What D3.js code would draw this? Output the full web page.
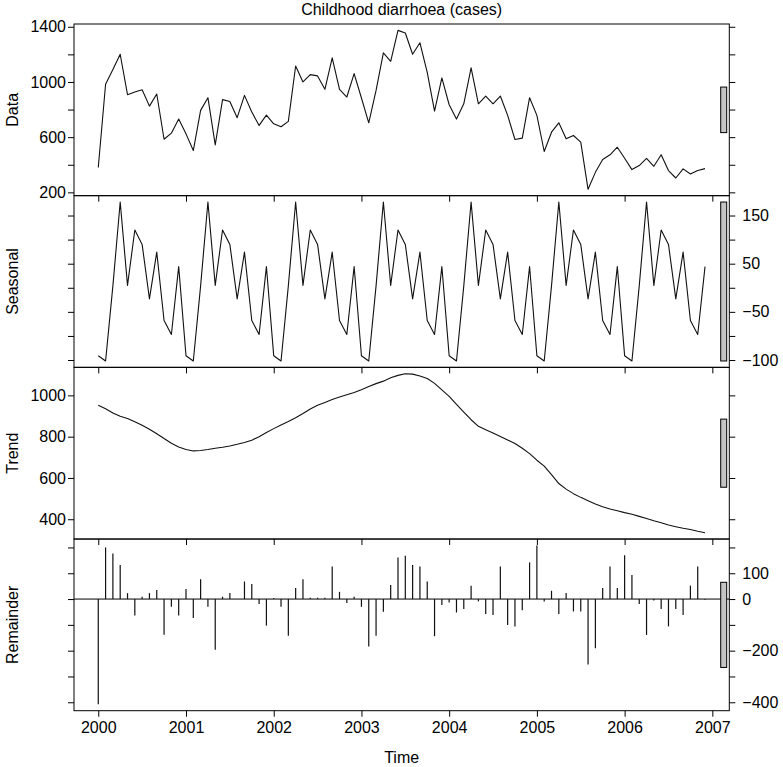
<!DOCTYPE html>
<html>
<head>
<meta charset="utf-8">
<script src="https://cdn.jsdelivr.net/npm/d3@7"></script>
<style>
    body { margin: 0; background: #fff; }
    svg text { font-family: "Liberation Sans", Arial, Helvetica, sans-serif; font-size: 16px; fill: #000; }
</style>
</head>
<body>
<svg id="vis_svg"></svg>
<script>
// Monthly series, January 2000 to December 2006
const startYear = 2000;
const panelNames = ['Data', 'Seasonal', 'Trend', 'Remainder'];

const dataValues = [
    380, 983, 1090, 1201, 908, 927, 944, 825, 913, 585, 629, 731,
    624, 503, 794, 886, 544, 872, 859, 741, 903, 782, 685, 760,
    697, 675, 714, 1116, 1000, 1053, 1044, 947, 1175, 947, 891, 1061,
    884, 704, 939, 1211, 1150, 1374, 1355, 1201, 1284, 1070, 789, 1029,
    835, 731, 842, 1102, 842, 898, 842, 898, 758, 583, 593, 886,
    758, 496, 636, 704, 588, 612, 564, 222, 345, 438, 472, 527,
    447, 365, 394, 447, 389, 472, 358, 304, 370, 333, 358, 372
];

const seasonalValues = [
    -141, -152, 4, 178, 5, 120, 90, -23, 74, -68, -97, 44,
    -141, -152, 4, 178, 5, 120, 90, -23, 74, -68, -97, 44,
    -141, -152, 4, 178, 5, 120, 90, -23, 74, -68, -97, 44,
    -141, -152, 4, 178, 5, 120, 90, -23, 74, -68, -97, 44,
    -141, -152, 4, 178, 5, 120, 90, -23, 74, -68, -97, 44,
    -141, -152, 4, 178, 5, 120, 90, -23, 74, -68, -97, 44,
    -141, -152, 4, 178, 5, 120, 90, -23, 74, -68, -97, 44
];

const trendValues = [
    952, 935, 915, 899, 888, 872, 855, 836, 814, 791, 768, 750,
    738, 731, 733, 738, 744, 749, 755, 763, 772, 783, 800, 820,
    839, 857, 874, 892, 912, 934, 952, 966, 980, 992, 1003, 1014,
    1027, 1043, 1057, 1069, 1085, 1097, 1105, 1103, 1094, 1082, 1058, 1027,
    995, 957, 919, 882, 850, 833, 818, 801, 784, 767, 744, 718,
    686, 657, 616, 573, 546, 524, 506, 490, 474, 461, 450, 441,
    432, 424, 414, 404, 393, 383, 372, 364, 356, 350, 342, 335
];

const remainderValues = [
    -408, 200, 177, 132, 23, -64, 9, 23, 35, -138, -30, -64,
    39, -73, 77, -30, -196, 9, 23, 0, 68, 58, -19, -103,
    4, -30, -142, 43, 77, 5, 5, 5, 126, 28, -15, 9,
    -30, -184, -142, -49, 54, 161, 168, 132, 126, 68, -144, -23,
    -13, -52, -39, 52, -9, -58, -62, 126, -101, -106, -43, 142,
    208, -9, 32, -58, 23, -48, -48, -254, -191, 43, 126, 43,
    170, 93, -19, -139, -6, -39, -106, -39, -62, 52, 126, -3
];

// Tick values and tick labels per panel
const xTicks = [2000, 2001, 2002, 2003, 2004, 2005, 2006, 2007];
const dataTicks = [200, 400, 600, 800, 1000, 1200, 1400];
const seasonalTicks = [-150, -100, -50, 0, 50, 100, 150];
const trendTicks = [400, 600, 800, 1000];
const remainderTicks = [-400, -300, -200, -100, 0, 100, 200];

const dataLabelAt = [200, 600, 1000, 1400];
const dataLabels = ['200', '600', '1000', '1400'];
const seasonalLabelAt = [150, 50, -50, -150];
const seasonalLabels = ['150', '50', '\u221250', '\u2212100'];
const trendLabelAt = [400, 600, 800, 1000];
const trendLabels = ['400', '600', '800', '1000'];
const remainderLabelAt = [100, 0, -200, -400];
const remainderLabels = ['100', '0', '\u2212200', '\u2212400'];

let config = {
    'svg': { 'margin': {} },
    'sub': {}
};

function visSetup() {
    config.svg.width = 783;
    config.svg.height = 767;
    config.svg.margin.top = 24;
    config.svg.margin.right = 53.7;
    config.svg.margin.bottom = 56.3;
    config.svg.margin.left = 74;

    config.sub.count = 4;
    config.sub.height_each = (config.svg.height - config.svg.margin.top - config.svg.margin.bottom) / config.sub.count;
    config.sub.y = function(i) {
        return config.svg.margin.top + i * config.sub.height_each;
    };

    svg = d3.select('#vis_svg')
        .attr('width', config.svg.width)
        .attr('height', config.svg.height);
}

function visDraw() {
    const panels = [
        { values: dataValues, ticks: dataTicks, at: dataLabelAt, labels: dataLabels, right: false, type: 'l' },
        { values: seasonalValues, ticks: seasonalTicks, at: seasonalLabelAt, labels: seasonalLabels, right: true, type: 'l' },
        { values: trendValues, ticks: trendTicks, at: trendLabelAt, labels: trendLabels, right: false, type: 'l' },
        { values: remainderValues, ticks: remainderTicks, at: remainderLabelAt, labels: remainderLabels, right: true, type: 'h' }
    ];

    const times = dataValues.map((d, i) => startYear + i / 12);
    const tx = d3.extent(times);
    const txPad = 0.04 * (tx[1] - tx[0]);
    const x = d3.scaleLinear()
        .domain([tx[0] - txPad, tx[1] + txPad])
        .range([config.svg.margin.left, config.svg.width - config.svg.margin.right]);

    // every range bar has the height of the smallest component range
    const barHeight = d3.min(panels, p => { const e = d3.extent(p.values); return e[1] - e[0]; });

    const h = config.sub.height_each;
    const xl = x.range()[0], xr = x.range()[1];

    panels.forEach((p, i) => {
        const y0 = config.sub.y(i);
        const e = d3.extent(p.values);
        const pad = 0.04 * (e[1] - e[0]);
        const y = d3.scaleLinear().domain([e[0] - pad, e[1] + pad]).range([y0 + h, y0]);
        const g = svg.append('g').attr('class', 'panel');

        if (p.type === 'l') {
            g.append('path')
                .datum(p.values)
                .attr('fill', 'none')
                .attr('stroke', '#111')
                .attr('stroke-width', 1.1)
                .attr('stroke-linejoin', 'round')
                .attr('d', d3.line().x((d, j) => x(times[j])).y(d => y(d)));
        } else {
            g.append('line')
                .attr('x1', xl).attr('x2', xr)
                .attr('y1', y(0)).attr('y2', y(0))
                .attr('stroke', '#000').attr('stroke-width', 1);
            g.selectAll('line.spike')
                .data(p.values)
                .join('line')
                .attr('class', 'spike')
                .attr('x1', (d, j) => x(times[j])).attr('x2', (d, j) => x(times[j]))
                .attr('y1', y(0)).attr('y2', d => y(d))
                .attr('stroke', '#111').attr('stroke-width', 1.2);
        }

        // box
        g.append('rect')
            .attr('x', xl).attr('y', y0)
            .attr('width', xr - xl).attr('height', h)
            .attr('fill', 'none').attr('stroke', '#000').attr('stroke-width', 1);

        // range bar
        const mid = (e[0] + e[1]) / 2;
        g.append('rect')
            .attr('x', xr - 8.6).attr('width', 6)
            .attr('y', y(mid + barHeight / 2))
            .attr('height', y(mid - barHeight / 2) - y(mid + barHeight / 2))
            .attr('fill', '#c4c4c4').attr('stroke', '#000').attr('stroke-width', 1);

        const labelFor = d => { const k = p.at.indexOf(d); return k < 0 ? '' : p.labels[k]; };
        const leftAxis = d3.axisLeft(y).tickValues(p.ticks).tickSize(6).tickPadding(2)
            .tickFormat(p.right ? () => '' : labelFor);
        const rightAxis = d3.axisRight(y).tickValues(p.ticks).tickSize(6).tickPadding(7)
            .tickFormat(p.right ? labelFor : () => '');
        const bottomAxis = d3.axisBottom(x).tickValues(xTicks).tickSize(6).tickPadding(5)
            .tickFormat(i === panels.length - 1 ? d3.format('d') : () => '');

        [[leftAxis, translate(xl, 0)], [rightAxis, translate(xr, 0)], [bottomAxis, translate(0, y0 + h)]]
            .forEach(a => {
                const ag = g.append('g').attr('transform', a[1]).call(a[0]);
                ag.select('.domain').remove();
                ag.attr('font-size', 16).attr('color', '#000');
            });

        g.append('text')
            .attr('transform', translate(18, y0 + h / 2) + ' rotate(-90)')
            .attr('text-anchor', 'middle')
            .text(panelNames[i]);
    });

    const cx = (xl + xr) / 2;
    svg.append('text').attr('x', cx).attr('y', 15).attr('text-anchor', 'middle')
        .text('Childhood diarrhoea (cases)');
    svg.append('text').attr('x', cx).attr('y', 763).attr('text-anchor', 'middle')
        .text('Time');
}

function translate(x, y) {
    return 'translate(' + x + ',' + y + ')';
}

visSetup();
visDraw();
</script>
</body>
</html>
